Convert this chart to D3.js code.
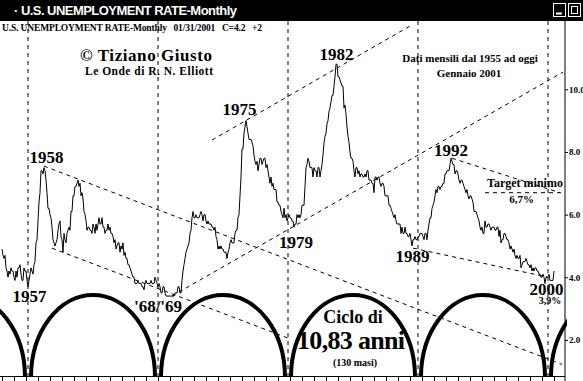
<!DOCTYPE html>
<html>
<head>
<meta charset="utf-8">
<script src="https://cdn.jsdelivr.net/npm/d3@7"></script>
<style>
  body { margin: 0; background: #fff; }
  svg { display: block; }
</style>
</head>
<body>
<svg class="chart"></svg>
<script>
// monthly US unemployment rate, Jan 1955 .. Jan 2001 (one row per year)
const startYear = 1955;
const rates = [
  4.9,4.7,4.6,4.7,4.3,4.2,4.0,4.2,4.1,4.3,4.2,4.2,
  4.0,3.9,4.2,4.0,4.3,4.3,4.4,4.1,3.9,3.9,4.3,4.2,
  4.2,3.9,3.7,3.9,4.1,4.3,4.2,4.1,4.4,4.5,5.1,5.2,
  5.8,6.4,6.7,7.4,7.4,7.3,7.5,7.4,7.1,6.7,6.2,6.2,
  6.0,5.9,5.6,5.2,5.1,5.0,5.1,5.2,5.5,5.7,5.8,5.3,
  5.2,4.8,5.4,5.2,5.1,5.4,5.5,5.6,5.5,6.1,6.1,6.6,
  6.6,6.9,6.9,7.0,7.1,6.9,7.0,6.6,6.7,6.5,6.1,6.0,
  5.8,5.5,5.6,5.6,5.5,5.5,5.4,5.7,5.6,5.4,5.7,5.5,
  5.7,5.9,5.7,5.7,5.9,5.6,5.6,5.4,5.5,5.5,5.7,5.5,
  5.6,5.4,5.4,5.3,5.1,5.2,4.9,5.0,5.1,5.1,4.8,5.0,
  4.9,5.1,4.7,4.8,4.6,4.6,4.4,4.4,4.3,4.2,4.1,4.0,
  4.0,3.8,3.8,3.8,3.9,3.8,3.8,3.8,3.7,3.7,3.6,3.8,
  3.9,3.8,3.8,3.8,3.8,3.9,3.8,3.8,3.8,4.0,3.9,3.8,
  3.7,3.8,3.7,3.5,3.5,3.7,3.7,3.5,3.4,3.4,3.4,3.4,
  3.4,3.4,3.4,3.4,3.4,3.5,3.5,3.5,3.7,3.7,3.5,3.5,
  3.9,4.2,4.4,4.6,4.8,4.9,5.0,5.1,5.4,5.5,5.9,6.1,
  5.9,5.9,6.0,5.9,5.9,5.9,6.0,6.1,6.0,5.8,6.0,6.0,
  5.8,5.7,5.8,5.7,5.7,5.7,5.6,5.6,5.5,5.6,5.3,5.2,
  4.9,5.0,4.9,5.0,4.9,4.9,4.8,4.8,4.8,4.6,4.8,4.9,
  5.1,5.2,5.1,5.1,5.1,5.4,5.5,5.5,5.9,6.0,6.6,7.2,
  8.1,8.1,8.6,8.8,9.0,8.8,8.6,8.4,8.4,8.4,8.3,8.2,
  7.9,7.7,7.6,7.7,7.4,7.6,7.8,7.8,7.6,7.7,7.8,7.8,
  7.5,7.6,7.4,7.2,7.0,7.2,6.9,7.0,6.8,6.8,6.8,6.4,
  6.4,6.3,6.3,6.1,6.0,5.9,6.2,5.9,6.0,5.8,5.9,6.0,
  5.9,5.9,5.8,5.8,5.6,5.7,5.7,6.0,5.9,6.0,5.9,6.0,
  6.3,6.3,6.3,6.9,7.5,7.6,7.8,7.7,7.5,7.5,7.5,7.2,
  7.5,7.4,7.4,7.2,7.5,7.5,7.2,7.4,7.6,7.9,8.3,8.5,
  8.6,8.9,9.0,9.3,9.4,9.6,9.8,9.8,10.1,10.4,10.8,10.8,
  10.4,10.4,10.3,10.2,10.1,10.1,9.4,9.5,9.2,8.8,8.5,8.3,
  8.0,7.8,7.8,7.7,7.4,7.2,7.5,7.5,7.3,7.4,7.2,7.3,
  7.3,7.2,7.2,7.3,7.2,7.4,7.4,7.1,7.1,7.1,7.0,7.0,
  6.7,7.2,7.2,7.1,7.2,7.2,7.0,6.9,7.0,7.0,6.9,6.6,
  6.6,6.6,6.6,6.3,6.3,6.2,6.1,6.0,5.9,6.0,5.8,5.7,
  5.7,5.7,5.7,5.4,5.6,5.4,5.4,5.6,5.4,5.4,5.3,5.3,
  5.4,5.2,5.0,5.2,5.2,5.3,5.2,5.2,5.3,5.3,5.4,5.4,
  5.4,5.3,5.2,5.4,5.4,5.2,5.5,5.7,5.9,5.9,6.2,6.3,
  6.4,6.6,6.8,6.7,6.9,6.9,6.8,6.9,6.9,7.0,7.0,7.3,
  7.3,7.4,7.4,7.4,7.6,7.8,7.7,7.6,7.6,7.3,7.4,7.4,
  7.3,7.1,7.0,7.1,7.1,7.0,6.9,6.8,6.7,6.8,6.6,6.5,
  6.6,6.6,6.5,6.4,6.1,6.1,6.1,6.0,5.9,5.8,5.6,5.5,
  5.6,5.4,5.4,5.8,5.6,5.6,5.7,5.7,5.6,5.5,5.6,5.6,
  5.6,5.5,5.5,5.6,5.6,5.3,5.5,5.1,5.2,5.2,5.4,5.4,
  5.3,5.2,5.2,5.1,4.9,5.0,4.9,4.8,4.9,4.7,4.6,4.7,
  4.6,4.6,4.7,4.3,4.4,4.5,4.5,4.5,4.6,4.5,4.4,4.4,
  4.3,4.4,4.2,4.3,4.2,4.3,4.3,4.2,4.2,4.1,4.1,4.0,
  4.0,4.1,4.0,3.8,4.0,4.0,4.0,4.1,3.9,3.9,3.9,3.9,
  4.2
];

// cycle lows, in months since Jan 1955 (130 month cycle)
const cycleLows = [26, 156, 286, 416, 546];
const cycleLength = 130;

// hand drawn channel lines: [month, rate] -> [month, rate]
const channelLines = [
  [[42, 7.55], [560, 1.22]],
  [[50, 4.93], [286, 2.06]],
  [[170, 3.40], [561, 10.55]],
  [[210, 8.38], [408, 12.02]],
  [[450, 7.80], [558, 6.70]],
  [[411, 4.93], [545, 4.01]],
  [[483, 6.70], [561, 6.70]]
];

const yTicks = [2, 4, 6, 8, 10];

const yearLabels = [
  {text: '1958', m: 44.5, v: 7.65},
  {text: '1957', m: 27.5, v: 3.21},
  {text: "'68/'69", m: 156, v: 2.89},
  {text: '1975', m: 237.5, v: 9.18},
  {text: '1982', m: 334.5, v: 10.94},
  {text: '1979', m: 294, v: 4.93},
  {text: '1989', m: 410.5, v: 4.49},
  {text: '1992', m: 449, v: 7.87},
  {text: '2000', m: 544.5, v: 3.43}
];

const svgWidth = 583;
const svgHeight = 381;
const plotTop = 21;
const axisX = 565;
const baseY = 377;
const serif = "'Liberation Serif', 'Times New Roman', serif";

window.addEventListener("load", drawChart);

function drawChart() {
  const svg = d3.select(".chart")
    .attr('width', svgWidth)
    .attr('height', svgHeight)
    .style('font-family', serif);

  const x = d3.scaleLinear()
    .domain([0, rates.length - 1])
    .range([2, 2 + rates.length - 1]);

  const y = d3.scaleLinear()
    .domain([0, 10])
    .range([402.6, 89.3]);

  svg.append('defs').append('clipPath').attr('id', 'plot')
    .append('rect')
    .attr('x', 0).attr('y', plotTop)
    .attr('width', axisX + 2).attr('height', svgHeight - plotTop);

  const plot = svg.append('g').attr('clip-path', 'url(#plot)');

  // cycle verticals
  plot.selectAll('.cycle-line')
    .data(cycleLows)
    .join('line')
    .attr('x1', d => x(d)).attr('x2', d => x(d))
    .attr('y1', plotTop).attr('y2', baseY)
    .attr('stroke', '#000')
    .attr('stroke-dasharray', '4,4');

  // cycle arcs
  const arcStarts = [cycleLows[0] - cycleLength].concat(cycleLows);
  plot.selectAll('.cycle-arc')
    .data(arcStarts)
    .join('path')
    .attr('d', d => {
      const x0 = x(d) + 3;
      const x1 = x(d + cycleLength) - 3;
      const rx = (x1 - x0) / 2;
      return `M${x0},${baseY} A${rx},82 0 0 1 ${x1},${baseY}`;
    })
    .attr('fill', 'none')
    .attr('stroke', '#000')
    .attr('stroke-width', 4);

  // channel lines
  plot.selectAll('.channel')
    .data(channelLines)
    .join('line')
    .attr('x1', d => x(d[0][0])).attr('y1', d => y(d[0][1]))
    .attr('x2', d => x(d[1][0])).attr('y2', d => y(d[1][1]))
    .attr('stroke', '#000')
    .attr('stroke-dasharray', '4,4');

  // data
  const line = d3.line()
    .x((d, i) => x(i))
    .y(d => y(d));

  plot.append('path')
    .attr('d', line(rates))
    .attr('fill', 'none')
    .attr('stroke', '#000')
    .attr('stroke-width', 1);

  // right axis
  const yAxis = svg.append('g')
    .attr('transform', `translate(${axisX},0)`)
    .call(d3.axisRight(y).tickValues(yTicks).tickSize(3).tickPadding(1)
      .tickFormat(d3.format('.1f')));
  yAxis.select('.domain').remove();
  yAxis.selectAll('text')
    .style('font-family', serif)
    .style('font-weight', 'bold')
    .style('font-size', '9px');
  svg.append('line')
    .attr('x1', axisX).attr('x2', axisX)
    .attr('y1', plotTop).attr('y2', svgHeight)
    .attr('stroke', '#000');

  // bottom axis, one tick a year
  const yearTicks = d3.range(0, rates.length, 12);
  const xAxis = svg.append('g')
    .attr('transform', `translate(0,${baseY - 1})`)
    .call(d3.axisBottom(x).tickValues(yearTicks).tickSize(6).tickFormat(''));
  xAxis.select('.domain').remove();
  svg.append('line')
    .attr('x1', 0).attr('x2', axisX)
    .attr('y1', baseY - 0.5).attr('y2', baseY - 0.5)
    .attr('stroke', '#000');

  // year labels
  svg.selectAll('.year')
    .data(yearLabels)
    .join('text')
    .attr('x', d => x(d.m))
    .attr('y', d => y(d.v))
    .attr('text-anchor', 'middle')
    .style('font-weight', 'bold')
    .style('font-size', '17px')
    .text(d => d.text);

  function note(tx, ty, str, size, anchor) {
    return svg.append('text')
      .attr('x', tx).attr('y', ty)
      .attr('text-anchor', anchor || 'middle')
      .style('font-weight', 'bold')
      .style('font-size', size + 'px')
      .text(str);
  }

  note(x(548), y(3.15), '3,9%', 10);
  note(x(523), y(6.88), 'Target minimo', 12);
  note(x(519.5), y(6.37), '6,7%', 11);

  note(80, 61, '\u00a9 Tiziano Giusto', 17, 'start').attr('textLength', 132);
  note(85, 75, 'Le Onde di R. N. Elliott', 11.5, 'start').attr('textLength', 128);
  note(470, 62, 'Dati mensili dal 1955 ad oggi', 11);
  note(469, 77, 'Gennaio 2001', 11);

  const cx = x(cycleLows[2] + cycleLength / 2);
  note(cx, 323, 'Ciclo di', 18);
  note(cx - 2, 349, '10,83 anni', 26).attr('textLength', 108);
  note(cx + 2, 366, '(130 masi)', 10);

  // window title bar
  svg.append('rect')
    .attr('x', 0).attr('y', 0)
    .attr('width', svgWidth).attr('height', plotTop)
    .attr('fill', '#000');
  svg.append('text')
    .attr('x', 14).attr('y', 15)
    .attr('fill', '#fff')
    .attr('textLength', 223)
    .style('font-family', "'Liberation Sans', Arial, sans-serif")
    .style('font-weight', 'bold')
    .style('font-size', '13px')
    .text('\u00b7 U.S. UNEMPLOYMENT RATE-Monthly');

  const btn = svg.append('g').attr('stroke', '#fff').attr('fill', 'none');
  btn.append('rect').attr('x', 553.5).attr('y', 3.5).attr('width', 12).attr('height', 13);
  btn.append('line').attr('x1', 556).attr('x2', 562).attr('y1', 13.5).attr('y2', 13.5).attr('stroke-width', 2);
  btn.append('rect').attr('x', 568.5).attr('y', 3.5).attr('width', 12).attr('height', 13);
  btn.append('rect').attr('x', 571.5).attr('y', 6.5).attr('width', 6).attr('height', 7);

  // header line
  svg.append('text')
    .attr('x', 2).attr('y', 31)
    .style('font-weight', 'bold')
    .style('font-size', '9.5px')
    .attr('xml:space', 'preserve')
    .attr('textLength', 260)
    .text('U.S. UNEMPLOYMENT RATE-Monthly   01/31/2001   C=4.2   +2');
}
</script>
</body>
</html>
